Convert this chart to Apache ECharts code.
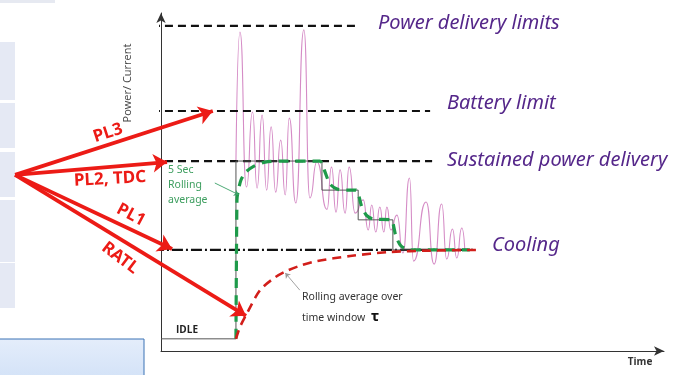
<!DOCTYPE html>
<html>
<head>
<meta charset="utf-8">
<script src="https://cdn.jsdelivr.net/npm/echarts@6/dist/echarts.min.js"></script>
<style>html,body{margin:0;padding:0;background:#fff}#c{width:678px;height:375px}</style>
</head>
<body>
<div id="c"></div>
<script>
// Axes: time 0..100 (x), power/current 0..100 (y), arbitrary units

// Limit levels (y) and their horizontal extents (x)
const limitNames = ['Power delivery limits', 'Battery limit', 'Sustained power delivery', 'Cooling'];
const limitLevels = [96.2, 71.0, 56.2, 29.9];
const limitStart = [-1.8, -1.8, 0.8, -1.6];
const limitEnd = [39.2, 53.5, 53.9, 62.6];

// Thin black step profile (IDLE -> turbo -> steps down -> cooling)
const stepX = [0, 14.9, 14.9, 32.0, 32.0, 39.2, 39.2, 46.1, 46.1, 62.6];
const stepY = [3.6, 3.6, 56.2, 56.2, 47.6, 47.6, 38.8, 38.8, 29.9, 29.9];

// Instantaneous power (pink)
const pinkX = [14.9, 15.7, 17.0, 18.2, 19.1, 20.1, 21.0, 21.9, 22.8, 23.8, 24.7, 25.5, 26.8, 28.4, 29.6, 31.0,
  33.0, 33.9, 34.8, 35.6, 36.6, 37.4, 38.6, 40.2, 41.2, 41.9, 42.7, 43.5, 44.3, 44.9, 45.7, 46.9,
  48.1, 49.4, 50.2, 52.7, 54.3, 55.8, 56.8, 57.95, 58.8, 59.8, 60.4];
const pinkY = [56.2, 94.4, 48.5, 70.7, 48.2, 69.8, 47.6, 66.3, 47.0, 62.4, 46.2, 68.9, 43.8, 95.0, 45.3, 55.9,
  41.9, 54.4, 41.1, 53.6, 40.8, 54.4, 40.8, 44.7, 35.8, 43.2, 35.2, 42.6, 35.2, 42.6, 35.8, 40.2,
  29.0, 51.2, 26.6, 44.1, 25.7, 43.5, 27.2, 36.1, 27.5, 36.4, 29.9];

// 5 sec rolling average (green dashed)
const greenX = [14.9, 15.1, 15.3, 15.9, 16.9, 18.5, 20.7, 23.7, 31.6, 32.0, 32.6, 33.6, 35.0, 36.8, 38.8,
  39.2, 39.8, 40.8, 42.1, 45.7, 46.1, 46.7, 47.7, 49.5, 61.4];
const greenY = [3.6, 44.7, 47.0, 50.6, 53.0, 54.7, 55.9, 56.2, 56.2, 55.6, 53.0, 49.4, 47.9, 47.6, 47.6,
  46.7, 43.2, 40.2, 39.1, 38.8, 37.9, 34.0, 31.1, 29.9, 29.9];

// Rolling average over time window tau (red dashed)
const redX = [14.9, 15.7, 17.1, 19.7, 22.5, 25.0, 28.0, 31.0, 37.6, 45.5, 53.5, 62.6];
const redY = [3.6, 7.1, 11.2, 18.0, 21.6, 23.7, 25.4, 26.6, 28.1, 29.3, 29.7, 29.9];

// Red callout arrows: common origin and tips
const arrowNames = ['PL3', 'PL2, TDC', 'PL1', 'RATL'];
const arrowOrigin = [-29.0, 52.1];
const arrowTipX = [10.3, 1.2, 2.2, 16.9];
const arrowTipY = [71.0, 55.9, 30.2, 10.4];

// Thin pointer arrows for the annotations
const pointerFrom = [[10.7, 49.7], [27.6, 18.0]];
const pointerTo = [[15.5, 46.2], [24.7, 23.1]];

const zip = (xs, ys) => xs.map((x, i) => [x, ys[i]]);

const chart = echarts.init(document.getElementById('c'), null, {renderer: 'canvas'});

const series = [];
limitLevels.forEach((lv, i) => {
  series.push({
    type: 'line', name: limitNames[i], clip: false, silent: true, symbol: 'none', z: 3,
    data: [[limitStart[i], lv], [limitEnd[i], lv]],
    lineStyle: {color: '#111', width: 2.2, type: i === 3 ? [11, 3, 2, 3] : [8, 5]}
  });
});
series.push({
  type: 'line', name: 'power', data: zip(pinkX, pinkY), smooth: 0.6, smoothMonotone: 'x', symbol: 'none', z: 2,
  lineStyle: {color: '#d58cc6', width: 1.1}
});
series.push({
  type: 'line', name: 'step', data: zip(stepX, stepY), symbol: 'none', z: 4,
  lineStyle: {color: '#555', width: 1}
});
series.push({
  type: 'line', name: '5 sec avg', data: zip(greenX, greenY), smooth: 0.25, symbol: 'none', z: 5,
  lineStyle: {color: '#1e9a4a', width: 3.2, type: [10, 7]}
});
series.push({
  type: 'line', name: 'tau avg', data: zip(redX, redY), smooth: 0.3, symbol: 'none', z: 5,
  lineStyle: {color: '#d21e1a', width: 2.6, type: [9, 6]}
});
series.push({
  type: 'lines', coordinateSystem: 'cartesian2d', clip: false, silent: true, z: 6,
  symbol: ['none', 'arrow'], symbolSize: 14,
  lineStyle: {color: '#ec1b16', width: 3.8, opacity: 1, curveness: 0},
  data: arrowTipX.map((x, i) => ({name: arrowNames[i], coords: [arrowOrigin, [x, arrowTipY[i]]]}))
});
series.push({
  type: 'lines', coordinateSystem: 'cartesian2d', clip: false, silent: true, z: 6,
  symbol: ['none', 'arrow'], symbolSize: 5,
  data: [
    {coords: [pointerFrom[0], pointerTo[0]], lineStyle: {color: '#3aa067', width: 0.9, opacity: 1}},
    {coords: [pointerFrom[1], pointerTo[1]], lineStyle: {color: '#999', width: 0.9, opacity: 1}}
  ]
});

const purple = '#55278a';
const txt = (text, x, y, style, extra) => Object.assign({
  type: 'text', x: x, y: y, silent: true,
  style: Object.assign({text: text, fill: '#222', align: 'left', verticalAlign: 'middle'}, style)
}, extra || {});
const deg = d => d * Math.PI / 180;
const purpleStyle = {fill: purple, font: 'italic 20px "Noto Sans"'};
const redStyle = {fill: '#ec1b16', font: 'bold 17px "Noto Sans"', align: 'center'};
const greenStyle = {fill: '#3d9e5f', font: '10.5px "Noto Sans"'};

const graphics = [
  {type: 'rect', shape: {x: 0, y: 0, width: 55, height: 3}, style: {fill: '#e6e9f1'}, silent: true, z: -1},
  {type: 'rect', shape: {x: 0, y: 42, width: 15, height: 58}, style: {fill: '#e5e9f4'}, silent: true, z: -1},
  {type: 'rect', shape: {x: 0, y: 103, width: 15, height: 45}, style: {fill: '#e5e9f4'}, silent: true, z: -1},
  {type: 'rect', shape: {x: 0, y: 152, width: 15, height: 45}, style: {fill: '#e5e9f4'}, silent: true, z: -1},
  {type: 'rect', shape: {x: 0, y: 200, width: 15, height: 62}, style: {fill: '#e5e9f4'}, silent: true, z: -1},
  {type: 'rect', shape: {x: 0, y: 263, width: 15, height: 45}, style: {fill: '#e5e9f4'}, silent: true, z: -1},
  {type: 'rect', shape: {x: -2, y: 339, width: 146, height: 40}, silent: true, z: -1,
    style: {fill: new echarts.graphic.LinearGradient(0, 0, 0, 1, [{offset: 0, color: '#e4edfb'}, {offset: 1, color: '#d3e2f7'}]),
      stroke: '#3b72b5', lineWidth: 1}},
  txt(limitNames[0], 378, 23, purpleStyle),
  txt(limitNames[1], 447, 103, purpleStyle),
  txt(limitNames[2], 447, 160, purpleStyle),
  txt(limitNames[3], 492, 245, purpleStyle),
  txt('Power/ Current', 128, 83, {fill: '#444', font: '11px "Open Sans"', align: 'center'}, {rotation: deg(90)}),
  txt('Time', 640, 362, {fill: '#333', font: 'bold 10px "Open Sans"', align: 'center'}),
  txt('IDLE', 187, 330, {fill: '#222', font: 'bold 10px "Open Sans"', align: 'center'}),
  txt('5 Sec', 168, 170, greenStyle),
  txt('Rolling', 168, 185, greenStyle),
  txt('average', 168, 200, greenStyle),
  txt('Rolling average over', 302, 297, {fill: '#333', font: '10.5px "Noto Sans"'}),
  txt('time window ', 302, 318, {fill: '#333', font: '10.5px "Noto Sans"'}),
  txt('τ', 371, 317, {fill: '#111', font: 'bold 15px "Noto Sans"'}),
  txt(arrowNames[0], 108, 133, redStyle, {rotation: deg(18)}),
  txt(arrowNames[1], 110, 179, redStyle, {rotation: deg(3)}),
  txt(arrowNames[2], 131, 215, redStyle, {rotation: deg(-28)}),
  txt(arrowNames[3], 120, 258, redStyle, {rotation: deg(-37)})
];

chart.setOption({
  animation: false,
  backgroundColor: '#fff',
  grid: {left: 161, right: 14, top: 13, bottom: 24, containLabel: false},
  xAxis: {
    type: 'value', min: 0, max: 100,
    axisLine: {show: true, lineStyle: {color: '#333', width: 1}, symbol: ['none', 'arrow'], symbolSize: [7, 10]},
    axisTick: {show: false}, axisLabel: {show: false}, splitLine: {show: false}
  },
  yAxis: {
    type: 'value', min: 0, max: 100,
    axisLine: {show: true, lineStyle: {color: '#333', width: 1}, symbol: ['none', 'arrow'], symbolSize: [7, 10]},
    axisTick: {show: false}, axisLabel: {show: false}, splitLine: {show: false}
  },
  series: series,
  graphic: graphics
});
</script>
</body>
</html>
